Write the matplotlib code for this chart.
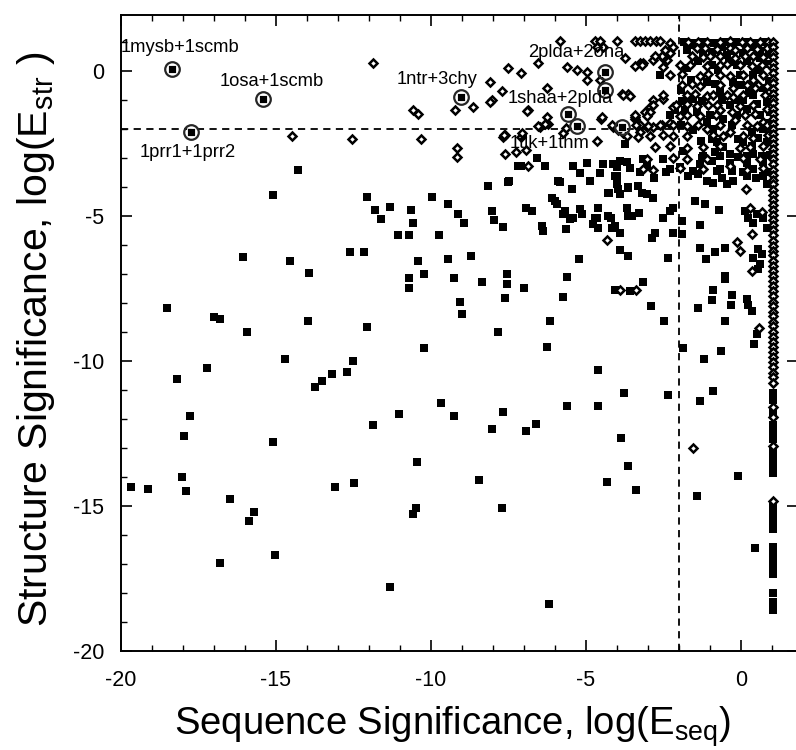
import matplotlib
matplotlib.use('Agg')
import matplotlib.pyplot as plt
from matplotlib.ticker import MultipleLocator
import numpy as np

plt.rcParams['font.family'] = ['Liberation Sans', 'DejaVu Sans']
plt.rcParams['mathtext.default'] = 'regular'
plt.rcParams['axes.unicode_minus'] = False

# filled squares (log E_seq, log E_str)
squares_left = [
    (-16.07, -6.42), (-14.55, -6.56), (-13.94, -6.97), (-12.61, -6.25), (-12.16, -6.25),
    (-10.42, -6.56), (-10.71, -7.15), (-10.71, -7.50), (-10.23, -7.01), (-9.45, -6.50),
    (-8.71, -6.39), (-9.26, -7.15), (-8.35, -7.29), (-7.55, -7.01), (-7.55, -7.36),
    (-7.61, -7.84), (-9.06, -7.95), (-9.00, -8.37), (-7.84, -9.00), (-18.52, -8.16),
    (-17.00, -8.47), (-16.80, -8.54), (-15.94, -9.00), (-13.97, -8.61), (-12.06, -8.82),
    (-10.23, -9.55), (-14.71, -9.93), (-17.23, -10.24), (-18.19, -10.63), (-12.52, -10.00),
    (-12.71, -10.38), (-13.19, -10.45), (-13.52, -10.69), (-13.74, -10.90), (-17.77, -11.88),
    (-17.97, -12.57), (-15.10, -12.81), (-11.87, -12.22), (-11.03, -11.84), (-9.68, -11.46),
    (-9.26, -11.91), (-7.68, -11.77), (-8.03, -12.36), (-10.45, -13.47), (-8.45, -14.10),
    (-19.68, -14.34), (-19.13, -14.41), (-18.03, -13.99), (-17.90, -14.48), (-16.48, -14.76),
    (-15.71, -15.21), (-15.87, -15.52), (-13.10, -14.34), (-12.48, -14.20), (-10.48, -15.07),
    (-10.58, -15.28), (-7.71, -15.07), (-16.81, -16.98), (-15.03, -16.70), (-11.32, -17.81),
    (-14.29, -3.40), (-15.10, -4.27), (-12.06, -4.34), (-11.81, -4.79), (-11.61, -5.10),
    (-11.32, -4.69), (-10.65, -4.79), (-10.58, -5.24), (-11.06, -5.66), (-10.71, -5.66),
    (-9.97, -4.34), (-9.45, -4.58), (-9.13, -4.93), (-8.94, -5.24), (-9.74, -5.66),
    (-8.16, -3.96), (-7.52, -3.82), (-8.03, -4.83), (-7.97, -5.14), (-7.68, -5.38),
    (-7.19, -3.26),
]

squares_mid = [
    (-6.58, -2.99), (-7.10, -3.26), (-6.32, -3.26), (-7.48, -3.78), (-6.94, -4.72),
    (-6.74, -4.83), (-5.90, -3.78), (-5.45, -4.06), (-6.10, -4.37), (-6.00, -4.48),
    (-5.94, -4.58), (-5.68, -4.83), (-5.42, -3.26), (-5.19, -3.51), (-4.97, -3.16),
    (-4.87, -3.78), (-5.19, -4.76), (-5.13, -4.93), (-4.45, -3.20), (-4.55, -3.51),
    (-4.29, -4.20), (-4.61, -4.72), (-4.13, -3.20), (-3.90, -3.09), (-4.06, -3.61),
    (-3.65, -4.03), (-3.97, -4.06), (-3.90, -4.24), (-3.74, -2.53), (-3.58, -3.33),
    (-4.29, -5.00), (-3.68, -4.72), (-3.52, -5.00), (-5.42, -5.07), (-4.71, -5.07),
    (-5.84, -3.82), (-4.00, -3.30), (-4.00, -3.61), (-4.00, -3.89), (-3.65, -3.99),
    (-4.26, -4.20), (-3.32, -3.96), (-3.19, -4.20), (-3.03, -4.24), (-2.84, -4.37),
    (-3.16, -3.02), (-3.03, -3.26), (-2.81, -3.68), (-2.42, -3.47), (-5.74, -4.93),
    (-5.52, -5.10), (-4.65, -5.07), (-4.61, -5.42), (-4.77, -5.28), (-4.19, -5.07),
    (-3.65, -5.00), (-3.29, -4.90), (-2.52, -5.07), (-2.29, -4.83), (-2.19, -4.72),
    (-4.16, -5.42), (-4.06, -5.35), (-3.90, -5.59), (-6.42, -5.35), (-6.39, -5.52),
    (-5.65, -5.45), (-2.77, -5.59), (-2.87, -5.76), (-2.35, -6.46), (-3.90, -6.18),
    (-3.65, -6.39), (-5.23, -6.49), (-7.00, -7.50), (-5.61, -7.12), (-5.74, -7.78),
    (-4.06, -7.54), (-3.58, -7.57), (-3.16, -7.29), (-2.90, -8.09), (-2.48, -8.61),
    (-6.16, -8.61), (-6.26, -9.51), (-4.61, -10.31), (-3.77, -11.11), (-2.35, -11.18),
    (-5.61, -11.56), (-4.61, -11.56), (-6.61, -12.19), (-6.94, -12.43), (-3.87, -12.64),
    (-3.65, -13.61), (-4.32, -14.17), (-3.39, -14.44), (-6.19, -18.37),
]

squares_right = [
    (-1.97, -3.33), (-1.71, -3.61), (-1.39, -3.54), (-1.26, -2.99), (-0.84, -2.81),
    (-0.35, -2.85), (-0.35, -3.19), (-0.77, -3.44), (-0.61, -3.68), (-1.10, -3.78),
    (-0.90, -3.85), (-0.45, -3.89), (-0.26, -3.78), (0.19, -2.92), (0.39, -2.85),
    (0.19, -3.19), (0.71, -3.61), (0.84, -3.89), (0.19, -3.61), (-1.48, -4.48),
    (-1.16, -4.58), (-0.71, -4.79), (-1.90, -5.17), (-1.32, -5.31), (-2.19, -5.59),
    (-1.90, -5.63), (-1.32, -6.11), (-1.13, -6.49), (-0.84, -6.25), (-0.52, -6.11),
    (0.13, -4.83), (0.23, -5.07), (0.39, -5.24), (0.52, -4.93), (0.71, -5.07),
    (0.84, -5.42), (0.55, -6.15), (0.68, -6.32), (0.61, -6.67), (0.55, -6.84),
    (0.39, -6.46), (-0.52, -7.08), (-0.52, -7.19), (-0.90, -7.54), (-0.94, -7.88),
    (-0.29, -7.71), (-0.32, -8.06), (0.19, -7.85), (0.23, -8.06), (0.35, -8.26),
    (-1.39, -8.16), (-0.52, -8.61), (0.52, -9.06), (0.42, -9.41), (-1.87, -9.55),
    (-1.19, -9.93), (-0.65, -9.65), (-1.32, -11.39), (-0.90, -11.04), (-1.42, -14.65),
    (-0.10, -13.96), (0.45, -16.46),
]

squares_dense = [
    (-2.61, -0.14), (-2.29, -1.53), (-2.13, -1.36), (-1.81, -1.36), (-1.00, -1.53),
    (-0.95, -2.34), (-0.78, -2.46), (-0.57, -2.63), (-0.35, -1.18), (-0.19, -1.01),
    (-0.14, -1.53), (0.08, -1.01), (0.18, -1.30), (0.40, -0.84), (0.51, -1.13),
    (0.61, -1.53), (0.72, -1.99), (0.83, -2.46), (0.35, -2.57), (0.08, -2.46),
    (-0.68, -2.92), (-0.68, -3.38), (-1.21, -2.92), (-1.32, -3.21), (-1.86, -2.75),
    (-1.97, -3.32), (-2.29, -3.38), (-2.50, -3.03), (-3.15, -3.03), (-3.26, -3.50),
    (-3.69, -3.15), (0.72, -3.15), (0.88, -3.50), (0.08, -3.50), (0.40, -3.38),
    (-1.54, -0.95), (-1.43, -1.41), (-1.10, -1.76), (-0.89, -1.99), (-0.57, -1.64),
    (-0.30, -1.88), (0.35, -2.11), (0.67, -2.92), (-0.68, -0.72), (-0.25, -0.37),
    (-0.03, -0.14), (-1.64, 0.90), (-1.21, 0.67), (-0.46, 0.55), (0.40, -0.14),
    (0.72, -0.60), (0.83, -1.07), (-1.10, -0.37), (-0.94, 0.20), (-0.14, 0.20),
    (0.61, 0.44), (-1.75, 0.09), (-1.85, 1.00), (-1.52, 0.98), (-1.18, 1.00),
    (-0.88, 0.97), (-0.52, 1.00), (-0.17, 0.99), (0.14, 1.00), (0.47, 0.98),
    (0.76, 1.00), (-1.30, 0.85), (-0.60, 0.82), (0.30, 0.84),
    (-1.75, 0.72), (-0.95, 0.65), (-0.30, 0.70), (0.05, 0.62), (0.62, 0.70),
    (0.90, 0.60), (-1.40, 0.35), (-0.75, 0.05), (-0.40, 0.30), (0.20, 0.35),
    (0.85, 0.25), (0.55, 0.05), (-1.60, -0.30), (-0.85, -0.45), (0.00, -0.50),
    (0.90, -0.35), (-1.95, -0.65), (-1.25, -1.05), (-0.60, -1.00), (0.25, -0.75),
    (0.95, -1.40), (-1.90, -1.05), (-1.55, -2.05), (-1.95, -1.85), (-0.10, -2.35),
    (0.55, -2.30), (0.95, -1.80), (-1.30, -2.40), (-1.55, -3.45), (-0.95, -3.10),
    (-0.30, -3.45), (0.50, -3.70), (0.95, -2.90), (-0.10, -2.95),
]

# open diamonds
diamonds_spread = [
    (-11.87, 0.28), (-10.58, -1.36), (-10.42, -1.47), (-14.48, -2.23), (-12.55, -2.34),
    (-10.32, -2.34), (-9.23, -1.36), (-9.16, -2.64), (-9.16, -2.95), (-7.61, -2.22),
    (-7.61, -2.88), (-7.26, -2.81), (-6.94, -2.74), (-5.84, 1.02), (-4.71, 1.02),
    (-4.55, 1.02), (-4.44, 0.84), (-4.66, 0.84), (-4.01, 1.02), (-3.42, 1.02),
    (-3.26, 1.02), (-3.10, 1.02), (-2.94, 1.02), (-2.74, 1.02), (-2.61, 1.02),
    (-2.29, 0.96), (-2.18, 0.84), (-2.29, 0.61), (-2.40, 0.38), (-2.50, 0.44),
    (-6.54, 0.27), (-7.53, 0.09), (-7.08, -0.06), (-8.10, -0.37), (-7.72, -0.68),
    (-8.04, -1.01), (-8.63, -1.24), (-6.86, -1.33), (-6.27, -0.60), (-5.62, 0.15),
    (-5.30, 0.03), (-4.98, -0.02), (-4.98, -0.31), (-4.55, -0.31), (-3.74, 0.44),
    (-3.26, 0.27), (-3.15, 0.27), (-2.83, 0.38), (-2.56, 0.50), (-3.63, -0.78),
    (-3.85, -0.78), (-2.83, -1.01), (-2.51, -0.95), (-2.94, -1.24), (-3.10, -1.41),
    (-3.42, -1.64), (-3.26, -1.88), (-4.50, -1.64), (-4.12, -1.93), (-3.96, -2.05),
    (-3.26, -2.11), (-3.04, -1.93), (-2.83, -1.93), (-2.56, -1.88), (-2.29, -1.82),
    (-2.18, -1.24), (-6.22, -1.82), (-6.48, -1.93), (-7.67, -2.28), (-7.08, -2.28),
    (-8.10, -1.07), (-6.90, -1.38), (-6.26, -1.60), (-6.32, -1.84), (-6.55, -1.91),
    (-7.65, -2.22), (-7.06, -2.15), (-6.87, -3.26), (-5.74, -2.15), (-5.65, -1.98),
    (-4.48, -1.60), (-4.65, -2.43), (-4.16, -1.88), (-4.00, -1.98), (-3.81, -2.15),
    (-3.42, -1.60), (-4.32, -5.83), (-1.55, -12.99), (0.16, -4.06), (-0.35, -3.26),
    (0.29, -4.72), (0.68, -4.86), (-0.13, -5.90), (-0.03, -6.22), (0.35, -5.63),
    (0.35, -6.88), (0.58, -8.85), (-3.90, -7.54), (-3.39, -7.54),
]

diamonds_dense = [
    (-1.70, 1.01), (-1.37, 1.01), (-1.10, 1.00), (-0.68, 1.01), (-0.35, 1.02), (0.02, 1.01),
    (0.29, 1.00), (0.61, 1.01), (0.88, 1.01),
    (-1.43, 0.78), (-1.16, 0.80), (-0.78, 0.76), (-0.35, 0.78), (-0.19, 0.74), (0.18, 0.79),
    (0.51, 0.77), (0.83, 0.78), (-2.45, 0.74),
    (-1.59, 0.50), (-1.21, 0.47), (-1.00, 0.52), (-0.68, 0.50), (-0.19, 0.46), (0.13, 0.52),
    (0.40, 0.50), (0.72, 0.48), (-2.77, 0.50), (-2.50, 0.14),
    (-1.97, 0.20), (-1.65, 0.22), (-1.10, 0.18), (-0.68, 0.20), (-0.46, 0.24), (-0.03, 0.20),
    (0.35, 0.17), (0.67, 0.21), (0.94, 0.20), (-3.20, 0.20), (-3.42, 0.16),
    (-2.29, -0.14), (-1.91, -0.12), (-1.32, -0.16), (-1.05, -0.12), (-0.68, -0.14),
    (-0.35, -0.17), (0.08, -0.13), (0.40, -0.30), (0.72, -0.14),
    (-1.91, -0.49), (-1.59, -0.46), (-1.32, -0.52), (-0.68, -0.49), (-0.25, -0.60),
    (0.18, -0.49), (0.56, -0.47), (0.83, -0.51),
    (-1.75, -0.84), (-1.48, -0.80), (-1.10, -0.86), (-0.89, -0.84), (-0.46, -0.82),
    (-0.25, -0.90), (0.08, -0.84), (0.45, -0.60), (0.78, -0.84), (-3.80, -0.84),
    (-3.58, -0.87), (-2.50, -0.84),
    (-2.08, -1.18), (-1.75, -1.15), (-1.43, -1.20), (-1.05, -1.18), (-0.78, -1.16),
    (-0.30, -1.40), (-0.03, -1.20), (0.40, -1.18), (0.83, -1.30), (-2.83, -1.18),
    (-2.94, -1.40),
    (-2.29, -1.80), (-1.97, -1.55), (-1.75, -1.53), (-1.32, -1.56), (-0.80, -1.53),
    (-0.68, -1.35), (-0.19, -1.70), (0.13, -1.53), (0.45, -1.50), (0.72, -1.75),
    (-3.42, -1.53), (-3.04, -1.56),
    (-2.61, -1.88), (-2.18, -1.85), (-1.75, -1.90), (-1.37, -1.88), (-1.10, -2.00),
    (-0.68, -1.86), (-0.35, -2.10), (0.18, -1.88), (0.51, -1.90), (0.83, -1.86),
    (-3.37, -1.88), (-2.99, -1.90),
    (-2.94, -2.23), (-2.50, -2.20), (-2.18, -2.25), (-1.75, -2.23), (-0.89, -2.20),
    (-0.57, -2.25), (0.08, -2.23), (0.40, -2.30), (0.88, -2.20), (-3.69, -2.23),
    (-3.31, -2.26),
    (-2.77, -2.63), (-2.29, -2.60), (-1.75, -2.65), (-1.21, -2.63), (-0.68, -2.60),
    (-0.03, -2.66), (0.29, -2.63), (0.72, -2.60),
    (-3.04, -3.03), (-2.18, -3.00), (-1.75, -3.05), (-1.10, -3.03), (0.08, -3.00),
    (0.61, -3.05),
    (-3.15, -3.38), (-2.83, -3.40), (-1.97, -3.36), (-1.21, -3.38), (0.18, -3.40),
    (0.72, -3.36),
]

# points piled up at the cut-off log(E_seq) = 1
column_x = 1.03
column_diamond_y = [
    1.00, 0.84, 0.63, 0.47, 0.26, 0.10, -0.08, -0.27, -0.42, -0.61, -0.78, -0.96, -1.12,
    -1.31, -1.47, -1.66, -1.83, -2.00, -2.18, -2.36, -2.51, -2.70, -2.87, -3.05, -3.22,
    -3.40, -3.57, -3.75, -3.91, -4.10, -4.26, -4.45, -4.62, -4.80, -4.96, -5.15, -5.31,
    -5.50, -5.66, -5.85, -6.02, -6.20, -6.36, -6.55, -6.71, -6.90, -7.06, -7.25, -7.41,
    -7.60, -7.76, -7.95, -8.11, -8.30, -8.46, -8.65, -8.81, -9.00, -9.16, -9.35, -9.51,
    -9.70, -9.86, -10.05, -10.21, -10.40, -10.56, -10.75, -11.60, -11.94, -12.92, -14.83,
]
column_square_y = [
    -11.10, -11.35, -11.80, -12.20, -12.45, -12.70, -13.10, -13.35, -13.60, -13.85,
    -15.05, -15.30, -15.55, -15.80, -16.40, -16.60, -16.85, -17.10, -17.35, -18.00,
    -18.30, -18.60,
]

# circled pairs and their labels
circled = [
    (-18.35, 0.07), (-15.42, -0.98), (-17.74, -2.10), (-9.04, -0.91), (-4.37, -0.02),
    (-4.37, -0.64), (-5.59, -1.47), (-5.30, -1.91), (-3.85, -1.93),
]
label_text = ['1mysb+1scmb', '1osa+1scmb', '1prr1+1prr2', '1ntr+3chy',
              '2plda+2ona', '1shaa+2plda', '1tlk+1thm']
label_x = [-20.02, -16.81, -19.39, -11.10, -6.87, -7.52, -7.45]
label_y = [0.80, -0.38, -2.81, -0.31, 0.63, -0.94, -2.50]

seq_cut = -2
str_cut = -2


def xy(points):
    arr = np.array(points)
    return arr[:, 0], arr[:, 1]


def main():
    fig = plt.figure(figsize=(7.96, 7.5), dpi=100)
    ax = fig.add_axes([0.152, 0.132, 0.8505, 0.848])

    ax.axvline(seq_cut, color='black', lw=1.3, ls=(0, (4, 3)), zorder=1)
    ax.axhline(str_cut, color='black', lw=1.3, ls=(0, (4, 3)), zorder=1)

    sq_style = dict(ls='none', marker='s', ms=6.2, color='black', mew=0, zorder=2)
    for group in (squares_left, squares_mid, squares_right, squares_dense):
        x, y = xy(group)
        ax.plot(x, y, **sq_style)
    ax.plot(np.full(len(column_square_y), column_x), column_square_y, **sq_style)

    dm_style = dict(ls='none', marker='D', ms=4.0, mfc='white', mec='black', mew=1.8, zorder=3)
    for group in (diamonds_spread, diamonds_dense):
        x, y = xy(group)
        ax.plot(x, y, **dm_style)
    ax.plot(np.full(len(column_diamond_y), column_x), column_diamond_y, **dm_style)

    cx, cy = xy(circled)
    ax.plot(cx, cy, ls='none', marker='s', ms=5.4, color='black', mec='white', mew=0.6, zorder=4)
    ax.plot(cx, cy, ls='none', marker='o', ms=10.5, mfc='none', mec='0.15', mew=1.6, zorder=5)

    for t, x, y in zip(label_text, label_x, label_y):
        ax.text(x, y, t, fontsize=13.2, ha='left', va='center', zorder=6, clip_on=False)

    ax.set_xlim(-20, 1.84)
    ax.set_ylim(-20, 1.93)
    ax.set_xticks([-20, -15, -10, -5, 0])
    ax.set_yticks([-20, -15, -10, -5, 0])
    ax.xaxis.set_minor_locator(MultipleLocator(1))
    ax.yaxis.set_minor_locator(MultipleLocator(1))
    ax.tick_params(which='both', direction='in', top=True, right=True, labelsize=15.5)
    ax.tick_params(which='major', length=8, width=1.2)
    ax.tick_params(which='minor', length=4.5, width=1.0)
    ax.tick_params(axis='x', which='major', pad=14)
    ax.tick_params(axis='y', which='major', pad=12)
    ax.tick_params(axis='y', which='minor', right=False)
    for s in ax.spines.values():
        s.set_linewidth(1.4)

    ax.set_xlabel('Sequence Significance, log(E$_{seq}$)', fontsize=27.5)
    ax.set_ylabel('Structure Significance, log(E$_{str}$ )', fontsize=29.5)
    ax.xaxis.set_label_coords(0.49, -0.084)
    ax.yaxis.set_label_coords(-0.095, 0.49)

    fig.savefig('out.png', dpi=100)


if __name__ == '__main__':
    main()
